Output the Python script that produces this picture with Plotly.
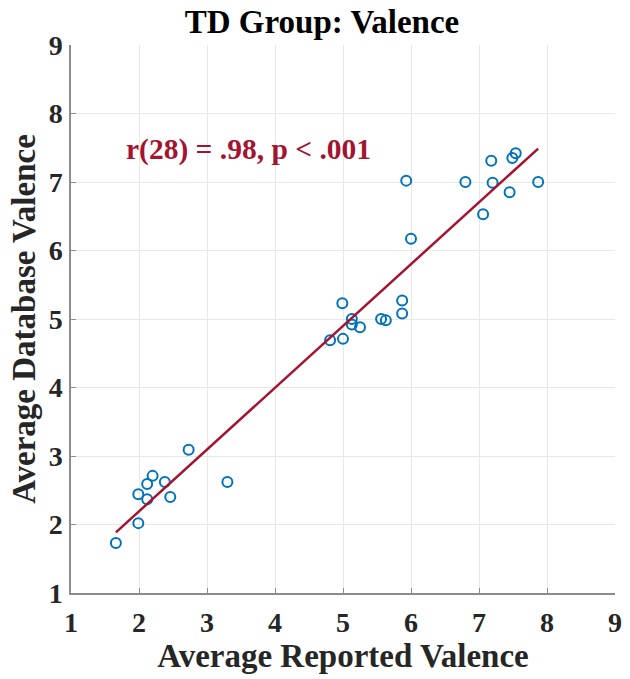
import numpy as np
import plotly.graph_objects as go

# Average reported valence vs. average database valence (TD group), one point per item
reported = [1.66, 1.99, 1.99, 2.12, 2.12, 2.20, 2.38, 2.46, 2.73, 3.30,
            4.99, 5.13, 5.13, 5.25, 4.81, 5.00, 5.56, 5.63, 5.87, 5.87,
            5.93, 6.00, 6.80, 7.06, 7.18, 7.20, 7.45, 7.49, 7.54, 7.87]
database = [1.73, 2.02, 2.44, 2.37, 2.59, 2.71, 2.62, 2.40, 3.09, 2.62,
            5.23, 5.00, 4.92, 4.88, 4.69, 4.71, 5.00, 4.98, 5.27, 5.08,
            7.02, 6.17, 7.00, 6.53, 7.31, 6.99, 6.85, 7.35, 7.42, 7.00]

tick_vals = [1, 2, 3, 4, 5, 6, 7, 8, 9]
stat_label = "r(28) = .98, p < .001"

x = np.array(reported)
y = np.array(database)
slope, intercept = np.polyfit(x, y, 1)
fit_x = np.array([x.min(), x.max()])
fit_y = slope * fit_x + intercept

SERIF = "Liberation Serif"
BLUE = "#0072BD"
RED = "#A2142F"

fig = go.Figure()
fig.add_trace(go.Scatter(
    x=reported, y=database, mode="markers",
    marker=dict(symbol="circle-open", size=10, color=BLUE, line=dict(width=2, color=BLUE)),
    showlegend=False, hoverinfo="x+y",
))
fig.add_trace(go.Scatter(
    x=fit_x, y=fit_y, mode="lines",
    line=dict(color=RED, width=2.5),
    showlegend=False, hoverinfo="skip",
))

axis_common = dict(
    range=[1, 9], tickmode="array", tickvals=tick_vals,
    showgrid=True, gridcolor="#E8E8E8", gridwidth=1,
    showline=True, linecolor="#8C8C8C", linewidth=1.5,
    ticks="inside", ticklen=5, tickcolor="#8C8C8C", tickwidth=1,
    zeroline=False, mirror=False,
    tickfont=dict(family=SERIF, size=28, color="#262626", weight="bold"),
)

fig.update_layout(
    width=630, height=679,
    margin=dict(l=71, r=8, t=45, b=86),
    paper_bgcolor="white", plot_bgcolor="white",
    xaxis=dict(axis_common, ticklabelstandoff=4,
               title=dict(text="Average Reported Valence", standoff=0,
                          font=dict(family=SERIF, size=33, color="#262626", weight="bold"))),
    yaxis=dict(axis_common, ticklabelstandoff=1,
               title=dict(text="Average Database Valence", standoff=3,
                          font=dict(family=SERIF, size=33, color="#262626", weight="bold"))),
    title=dict(text="TD Group: Valence", x=322 / 630, xanchor="center",
               y=1 - 21 / 679, yanchor="middle",
               font=dict(family=SERIF, size=33, color="black", weight="bold")),
    annotations=[dict(
        text=stat_label, x=1.78, y=7.48, xref="x", yref="y",
        xanchor="left", yanchor="middle", showarrow=False,
        font=dict(family=SERIF, size=29.5, color=RED, weight="bold"),
    )],
)

fig.write_html("out.html")
